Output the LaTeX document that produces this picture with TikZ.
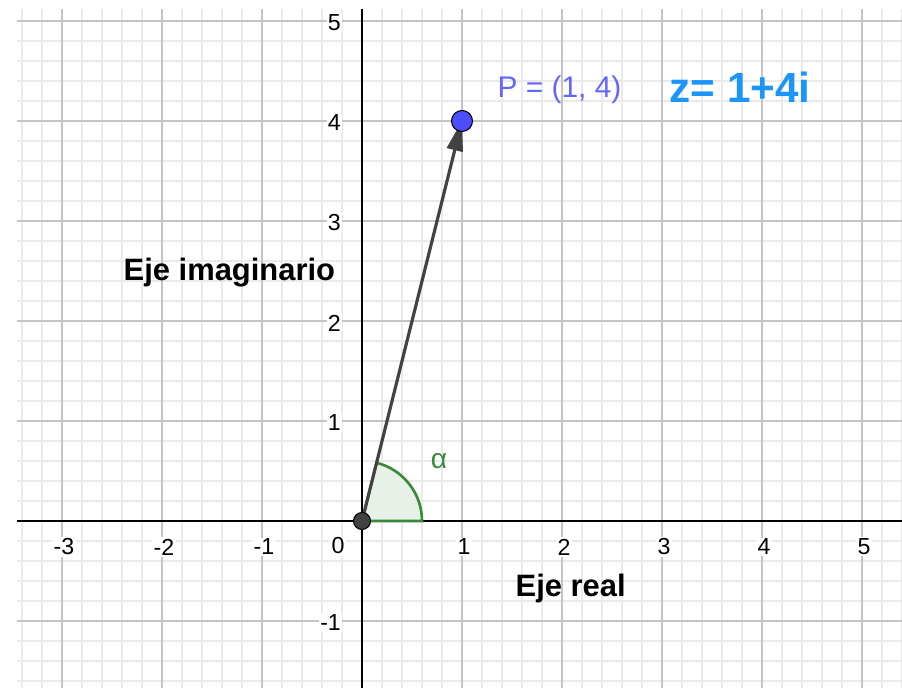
\documentclass[tikz,border=0pt]{standalone}
\usepackage{fontspec}
\setmainfont{Liberation Sans}
\usetikzlibrary{arrows.meta}
\definecolor{ink}{HTML}{000000}
\definecolor{gridmajor}{HTML}{C4C4C4}
\definecolor{gridminor}{HTML}{EAEAEA}
\definecolor{vecgray}{HTML}{424242}
\definecolor{pointblue}{HTML}{4D4DFF}
\definecolor{labelblue}{HTML}{6464FF}
\definecolor{zblue}{HTML}{1C95FA}
\definecolor{anglegreen}{HTML}{3A8A3A}
\tikzset{
  minorgrid/.style={draw=gridminor,line width=0.3pt},
  majorgrid/.style={draw=gridmajor,line width=0.4pt},
  axis/.style={draw=ink,line width=0.55pt},
  ticklab/.style={font=\fontsize{6.6}{7}\selectfont,fill=white,inner sep=0.4pt},
  axlab/.style={font=\fontsize{8.8}{10}\selectfont\bfseries,inner sep=0pt},
  vec/.style={-{Triangle[length=3mm,width=1.6mm]},line width=0.9pt,draw=vecgray},
  dot/.style={circle,draw=ink,line width=0.3pt,inner sep=0pt}
}

\begin{document}
\begin{tikzpicture}[
    x=1cm,y=1cm,
    sector/.style={draw=anglegreen,fill=anglegreen!12,line width=0.75pt},
    plab/.style={font=\fontsize{8.5}{10}\selectfont,text=labelblue,inner sep=0pt},
    zlab/.style={font=\fontsize{12}{14}\selectfont\bfseries,text=zblue,inner sep=0pt},
    alab/.style={font=\fontsize{8}{9}\selectfont,text=anglegreen,inner sep=0pt}
  ]
    \fill[white] (-3.62,-1.67) rectangle (5.40,5.21);
    \useasboundingbox (-3.62,-1.67) rectangle (5.40,5.21);

    \draw[minorgrid,step=0.2] (-3.45,-1.67) grid (5.40,5.12);
    \draw[majorgrid,step=1] (-3.45,-1.67) grid (5.40,5.12);
    \draw[axis] (-3.45,0) -- (5.40,0);
    \draw[axis] (0,-1.67) -- (0,5.12);

    \foreach \k in {-3,-2,-1,1,2,3,4,5}
      \node[ticklab] (xt\k) at (\k+0.02,-0.26) {\k};
    \foreach \k in {-1,1,2,3,4,5}
      \node[ticklab,anchor=east] (yt\k) at (-0.19,\k-0.02) {\k};
    \node[ticklab] (zero) at (-0.24,-0.25) {0};

    \coordinate (O) at (0,0);
    \coordinate (P) at (1,4);
    \draw[sector] (O) -- (0.6,0) arc[start angle=0,end angle=75.96,radius=0.6] -- cycle;
    \draw[vec] (O) -- (P);
    \node[dot,fill=vecgray,minimum size=1.7mm] (o) at (O) {};
    \node[dot,fill=pointblue,minimum size=2.1mm] (p) at (P) {};

    \node[alab] (alpha) at (0.77,0.60) {α};
    \node[plab,anchor=base west] (plabel) at (1.35,4.23) {P = (1, 4)};
    \node[zlab,anchor=base west] (zlabel) at (3.07,4.18) {z= 1+4i};
    \node[axlab,anchor=base west] (ejeim) at (-2.39,2.40) {Eje imaginario};
    \node[axlab,anchor=base west] (ejere) at (1.53,-0.76) {Eje real};
  \end{tikzpicture}
\end{document}
